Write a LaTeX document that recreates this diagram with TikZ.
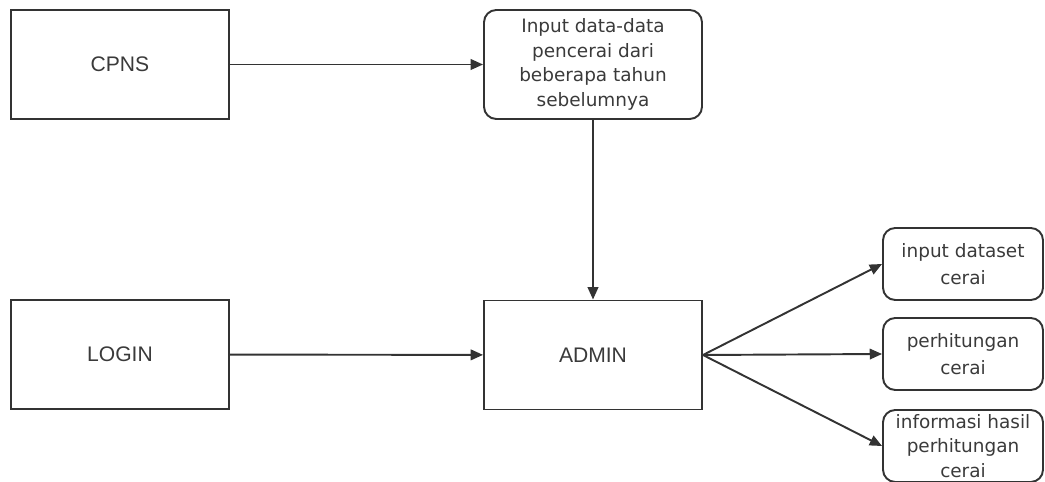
\documentclass[tikz,border=0pt]{standalone}
\usepackage{fontspec}
\setmainfont{Liberation Sans}
\newfontfamily\roundfont{DejaVu Sans}
\usepackage{xcolor}
\usepackage{tikz}
\usetikzlibrary{arrows.meta}
\definecolor{edge}{HTML}{333333}
\definecolor{ink}{HTML}{3A3A3A}
\tikzset{
  blok/.style={draw=edge, line width=1.1pt, minimum width=218*0.02cm, minimum height=109*0.02cm,
    inner sep=0pt, text=ink, font=\fontsize{12}{14}\selectfont},
  proses/.style={draw=edge, line width=1.1pt, rounded corners=7pt, align=center, inner sep=0pt,
    text=ink, font=\roundfont\fontsize{10.5}{14}\selectfont},
  menu/.style={proses, minimum width=160*0.02cm, minimum height=72*0.02cm},
  panah/.style={draw=edge, line width=1.1pt, -{Triangle[length=7pt,width=6pt]}},
}

\begin{document}
\begin{tikzpicture}[x=0.02cm, y=-0.02cm]
  \useasboundingbox (0,0) rectangle (1045,482);

  \node[blok] (cpns) at (120,64.5) {CPNS};
  \node[blok] (login) at (120,354.5) {LOGIN};
  \node[blok] (admin) at (593,355) {ADMIN};
  \node[proses, minimum width=218*0.02cm, minimum height=109*0.02cm] (input) at (593,64.5)
    {Input data-data\\pencerai dari\\beberapa tahun\\sebelumnya};

  % menu admin
  \node[menu, font=\roundfont\fontsize{10.5}{15.5}\selectfont] (dataset) at (963,264)
    {input dataset\\cerai};
  \node[menu, font=\roundfont\fontsize{10.5}{15.5}\selectfont] (hitung) at (963,354)
    {perhitungan\\cerai};
  \node[menu] (info) at (963,446)
    {informasi hasil\\perhitungan\\cerai};

  \draw[panah] (cpns) -- (input);
  \draw[panah] (input) -- (admin);
  \draw[panah] (login) -- (admin);
  \draw[panah] (admin.east) -- (dataset.west);
  \draw[panah] (admin.east) -- (hitung.west);
  \draw[panah] (admin.east) -- (info.west);
\end{tikzpicture}
\end{document}
